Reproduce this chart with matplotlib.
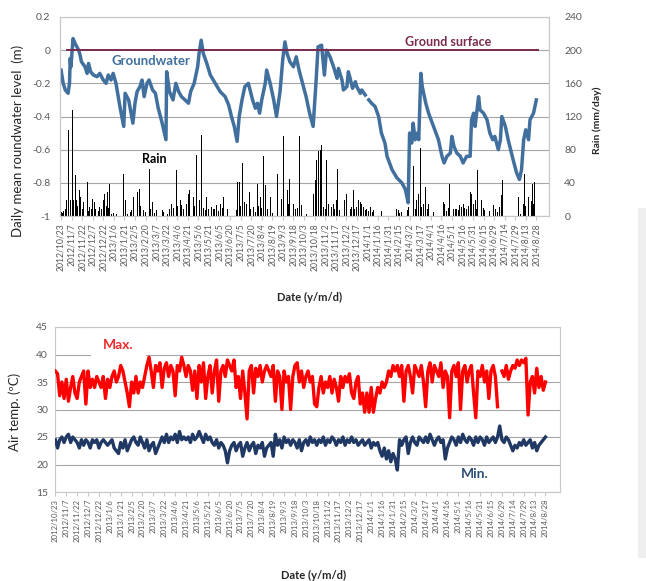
import numpy as np
import matplotlib
matplotlib.use('Agg')
import matplotlib.pyplot as plt
from matplotlib.patches import Rectangle
from matplotlib.ticker import FuncFormatter

plt.rcParams['font.family'] = ['Lato', 'DejaVu Sans']

# ---- data ----
date_labels = ['2012/10/23', '2012/11/7', '2012/11/22', '2012/12/7', '2012/12/22',
               '2013/1/6', '2013/1/21', '2013/2/5', '2013/2/20', '2013/3/7', '2013/3/22',
               '2013/4/6', '2013/4/21', '2013/5/6', '2013/5/21', '2013/6/5', '2013/6/20',
               '2013/7/5', '2013/7/20', '2013/8/4', '2013/8/19', '2013/9/3', '2013/9/18',
               '2013/10/3', '2013/10/18', '2013/11/2', '2013/11/17', '2013/12/2', '2013/12/17',
               '2014/1/1', '2014/1/16', '2014/1/31', '2014/2/15', '2014/3/2', '2014/3/17',
               '2014/4/1', '2014/4/16', '2014/5/1', '2014/5/16', '2014/5/31', '2014/6/15',
               '2014/6/29', '2014/7/14', '2014/7/29', '2014/8/13', '2014/8/28']
tick_step = 15  # days between labels

# groundwater level (m), day counted from 2012/10/23
gw_day = [0, 3, 6, 10, 12, 13, 14, 17, 20, 25, 27, 29, 34, 37, 39, 42, 46, 51, 55, 60,
          64, 67, 71, 74, 78, 84, 89, 91, 96, 102, 105, 108, 112, 115, 118, 122, 125, 130, 134, 138,
          143, 149, 150, 154, 159, 163, 167, 171, 176, 181, 184, 189, 194, 196, 199, 202, 207, 212, 219, 226,
          233, 238, 242, 246, 250, 253, 257, 261, 266, 269, 272, 276, 279, 282, 285, 290, 292, 297, 302, 306,
          311, 315, 318, 321, 325, 330, 334, 338, 343, 348, 353, 358, 362, 365, 370, 374, 377, 382, 387, 392,
          394, 399, 401, 406, 408, 410, 414, 418, 420, 425, 427, 432, 434, 437, 441, 446, 451, 455, 460, 463,
          470, 477, 484, 489, 493, 495, 498, 500, 503, 506, 508, 511, 513, 516, 518, 522, 529, 536, 541, 544,
          548, 553, 555, 558, 562, 567, 571, 576, 581, 583, 586, 588, 593, 595, 600, 605, 609, 613, 616, 621,
          624, 626, 631, 635, 642, 647, 651, 654, 657, 660, 664, 666, 671, 675]
gw_level = [-0.12, -0.20, -0.24, -0.26, -0.20, -0.05, -0.10, 0.07, 0.04, 0.00, -0.03, -0.07, -0.10, -0.14, -0.08, -0.13, -0.15, -0.16, -0.14, -0.18,
            -0.20, -0.15, -0.18, -0.14, -0.20, -0.35, -0.46, -0.26, -0.30, -0.44, -0.32, -0.25, -0.22, -0.18, -0.28, -0.20, -0.18, -0.24, -0.26, -0.35,
            -0.43, -0.54, -0.13, -0.25, -0.30, -0.20, -0.25, -0.28, -0.30, -0.32, -0.25, -0.20, -0.10, -0.02, 0.06, -0.02, -0.08, -0.15, -0.20, -0.25,
            -0.28, -0.33, -0.40, -0.46, -0.55, -0.40, -0.30, -0.22, -0.20, -0.25, -0.30, -0.35, -0.32, -0.38, -0.30, -0.20, -0.12, -0.20, -0.30, -0.40,
            -0.25, -0.05, 0.05, -0.02, -0.07, -0.10, -0.04, -0.12, -0.20, -0.28, -0.38, -0.46, -0.20, 0.02, 0.03, -0.15, 0.00, -0.04, -0.10, -0.17,
            -0.11, -0.18, -0.24, -0.22, -0.13, -0.16, -0.23, -0.19, -0.22, -0.26, -0.24, -0.27, np.nan, -0.30, -0.32, -0.34, -0.40, -0.50, -0.56, -0.64,
            -0.72, -0.77, -0.80, -0.84, -0.92, -0.50, -0.56, -0.44, -0.54, -0.50, -0.54, -0.14, -0.22, -0.28, -0.32, -0.38, -0.46, -0.54, -0.64, -0.68,
            -0.64, -0.62, -0.52, -0.58, -0.62, -0.64, -0.68, -0.64, -0.64, -0.42, -0.38, -0.46, -0.28, -0.36, -0.38, -0.42, -0.50, -0.54, -0.52, -0.60,
            -0.54, -0.40, -0.46, -0.54, -0.66, -0.74, -0.78, -0.72, -0.54, -0.48, -0.54, -0.42, -0.38, -0.30]

surface_level = 0.0
surface_days = [8, 677]

# daily rain (mm/day)
rain_day = [0, 2, 4, 6, 8, 10, 13, 16, 18, 20, 22, 24, 26, 28, 30, 32, 34, 37, 39, 41,
            43, 45, 47, 49, 51, 53, 55, 57, 60, 62, 64, 66, 68, 69, 72, 75, 79, 89, 91, 94,
            98, 100, 103, 105, 108, 111, 113, 115, 117, 120, 125, 127, 130, 133, 136, 144, 146, 149, 151, 154,
            157, 160, 164, 166, 169, 171, 174, 176, 178, 181, 183, 186, 188, 190, 193, 196, 199, 202, 205, 207,
            210, 214, 216, 218, 221, 224, 226, 229, 231, 236, 249, 251, 253, 255, 257, 258, 261, 264, 267, 269,
            273, 276, 279, 281, 283, 285, 287, 290, 293, 297, 300, 308, 311, 313, 316, 318, 321, 323, 325, 328,
            330, 333, 336, 338, 342, 345, 349, 358, 361, 363, 365, 368, 370, 373, 375, 377, 380, 382, 384, 387,
            389, 391, 393, 396, 399, 403, 406, 409, 411, 413, 415, 417, 420, 422, 425, 427, 429, 432, 434, 437,
            439, 442, 444, 455, 470, 477, 479, 481, 484, 492, 493, 497, 500, 503, 505, 508, 510, 512, 514, 515,
            518, 520, 522, 524, 529, 543, 545, 547, 550, 552, 557, 560, 562, 564, 566, 569, 571, 573, 576, 579,
            581, 583, 586, 588, 590, 592, 595, 597, 600, 602, 605, 608, 612, 614, 617, 620, 623, 625, 627, 650,
            653, 657, 658, 660, 664, 666, 668, 669, 671, 673]
rain_mm = [5, 4, 6, 9, 19, 104, 19, 128, 19, 50, 19, 12, 31, 23, 8, 17, 10, 41, 6, 11,
           9, 21, 17, 8, 15, 6, 11, 9, 19, 27, 12, 29, 10, 39, 3, 4, 2, 51, 19, 3,
           5, 7, 23, 31, 29, 33, 12, 31, 7, 5, 57, 8, 17, 4, 7, 7, 5, 90, 3, 8,
           15, 10, 55, 12, 19, 13, 8, 11, 14, 27, 31, 29, 23, 12, 74, 19, 98, 10, 7, 23,
           8, 11, 9, 9, 13, 6, 15, 10, 23, 9, 7, 41, 41, 12, 15, 64, 17, 15, 29, 9,
           11, 5, 39, 12, 23, 10, 72, 37, 8, 23, 4, 51, 41, 20, 96, 106, 31, 14, 45, 29,
           15, 8, 10, 96, 13, 5, 3, 27, 43, 68, 78, 80, 86, 11, 9, 68, 15, 7, 11, 15,
           8, 19, 57, 7, 10, 19, 27, 41, 9, 11, 31, 8, 11, 19, 17, 15, 11, 7, 9, 6,
           11, 5, 7, 6, 3, 9, 7, 4, 5, 7, 11, 6, 60, 9, 19, 27, 82, 11, 8, 15,
           35, 9, 15, 13, 5, 17, 15, 6, 10, 39, 8, 9, 9, 7, 13, 11, 15, 10, 9, 12,
           29, 27, 15, 19, 9, 55, 11, 19, 10, 7, 5, 6, 17, 13, 8, 5, 11, 25, 43, 23,
           3, 15, 51, 12, 23, 40, 18, 39, 15, 41]

# air temperature (deg C), one value every 3 days from 2012/10/23
temp_step = 3
t_max = [37, 36.5, 32.5, 35, 32, 35.5, 31.5, 34, 36, 33,
         32, 35, 36, 37, 31, 37, 34, 35.5, 34, 36,
         35, 34, 36, 32, 35.5, 34, 36, 37, 35, 36,
         38, 37, 35, 33, 30.5, 35, 33, 36, 33, 35,
         34, 36, 38, 39.5, 37, 34, 38, 37, 38.5, 34,
         37.5, 38.5, 36, 38, 37, 32.5, 38, 37, 39.5, 38,
         36, 38, 37, 33.5, 37, 32, 38, 35, 38.5, 32,
         36, 38, 33, 37, 39, 31.5, 37, 38, 36, 39,
         38, 37, 39, 34, 36, 32, 37, 33, 28.3, 37,
         38, 33, 37.5, 36, 38, 35, 37, 38, 37, 36,
         38, 31.5, 37, 36, 30, 37, 35, 36, 30, 36,
         38, 38.5, 35, 37, 34, 36, 37, 35, 36, 31,
         30.5, 34, 36, 33, 35, 34, 36, 33, 35.5, 34,
         31.5, 36, 34, 36, 35, 36.5, 33, 32, 35, 36,
         31, 33, 29.5, 33, 29.5, 34, 29.5, 32, 34, 33,
         35, 34, 35, 37, 36, 38, 37, 38, 36, 38,
         31.5, 37, 38, 36, 33, 38, 37, 36, 38, 35,
         30.5, 37, 38.5, 35, 38, 37, 36, 38.5, 34, 37,
         36, 28.5, 37, 38, 36, 38.5, 30, 37, 38, 35,
         37, 38, 33, 28.5, 37, 36, 38, 35, 37, 32,
         37, 38, 36, 30.5, np.nan, 37, 36, 38, 35.5, 37,
         38, 37.5, 39, 38, 39, 38.5, 39.3, 29, 35, 36,
         33, 37.5, 34, 36, 33.5, 35]
t_min = [24.5, 23, 24.5, 25, 24, 25, 25.5, 24, 25, 24.5,
         24, 23, 24.5, 23.5, 24.5, 24, 23, 24.5, 24, 24.5,
         23, 24, 24.5, 24, 23.5, 24, 24.5, 23, 22.5, 22,
         24, 23, 24.5, 22.5, 23.5, 24.5, 25, 24, 23.5, 25,
         24, 23, 24.5, 22.5, 23.5, 24, 22, 23, 24, 25,
         24, 25.5, 24, 25, 24.5, 25.5, 24, 26, 24.5, 25,
         24.5, 25, 24, 25.5, 24.5, 25, 26, 25, 24, 25.5,
         24.5, 25, 24, 23.5, 24.5, 23, 24, 23.5, 22.5, 20.3,
         22.5, 23.5, 24, 22.5, 23.5, 24, 21.5, 23, 24, 22.5,
         23.5, 24, 22, 23.5, 23, 24, 21.5, 23, 23.5, 24,
         21.5, 25.5, 23.5, 24.5, 23, 25, 24, 24.5, 23.5, 24.5,
         24, 23, 24.5, 22.5, 24, 24.5, 23.5, 25, 24, 24.5,
         23.5, 24.5, 24, 25, 23.5, 24.5, 24, 25, 24.5, 23.5,
         24.5, 24, 25, 23.5, 24.5, 24, 25, 24, 24.5, 23.5,
         24, 24.5, 23.5, 24, 24.5, 23, 24, 23.5, 24, 22.5,
         21.5, 23, 21, 22.5, 20.5, 22, 21, 19, 24.5, 23.5,
         24.5, 25, 22, 24, 25, 24, 23.5, 25, 24.5, 24,
         25, 24, 25.5, 24.5, 23.5, 24.5, 25, 24, 24.5, 21,
         23, 24, 25, 24.5, 23.5, 25, 24, 25.5, 24.5, 24,
         25, 24.5, 23.5, 25, 24, 25, 24.5, 23.5, 25, 24,
         24.5, 25, 24, 25, 27, 24.5, 24, 25, 24.5, 23.5,
         22.5, 23.5, 23, 24, 23.5, 24.5, 23.5, 24, 24.5, 23,
         24, 22.5, 23.5, 24, 24.5, 25]

# ---- figure ----
W, H = 646, 581
fig = plt.figure(figsize=(W / 100, H / 100), dpi=100)
grid_c = '#A6A6A6'
frame_c = '#C8C8C8'
tick_c = '#595959'
tick_pos = np.arange(len(date_labels)) * tick_step

def px_axes(left, top, right, bottom):
    return fig.add_axes([left / W, 1 - bottom / H, (right - left) / W, (bottom - top) / H])

# grey side panel at the right edge of the screenshot
side = fig.add_axes([638 / W, 1 - 558 / H, 8 / W, 350 / H])
side.set_facecolor('#EFEFEF')
side.set_axis_off()
side.add_patch(Rectangle((0, 0), 1, 1, transform=side.transAxes,
                         facecolor='#EFEFEF', edgecolor='none'))

# top panel: groundwater + rain
ax_r = px_axes(60, 17, 549, 216)
ax = ax_r.twinx()
ax_r.yaxis.tick_right()
ax.yaxis.tick_left()

ax_r.bar(rain_day, rain_mm, width=1.3, color='black', linewidth=0)
ax_r.set_ylim(0, 240)
ax_r.set_yticks(range(0, 241, 40))
ax_r.yaxis.grid(True, color=grid_c, linewidth=0.8)
ax_r.set_axisbelow(True)

ax.plot(gw_day, gw_level, color='#41709E', linewidth=2.5, solid_joinstyle='round')
ax.plot(surface_days, [surface_level, surface_level], color='#7B2B50', linewidth=1.4)
ax.set_ylim(-1, 0.2)
ax.set_yticks([0.2, 0, -0.2, -0.4, -0.6, -0.8, -1])
ax.yaxis.set_major_formatter(FuncFormatter(lambda v, p: '%g' % round(v, 2)))
ax.set_xlim(-1.5, 693)
ax_r.set_xlim(-1.5, 693)
ax_r.set_xticks(tick_pos)
ax_r.set_xticklabels(date_labels, rotation=90, fontsize=6.2, color=tick_c)
ax_r.tick_params(axis='x', length=3, color=frame_c, pad=2)
ax_r.tick_params(axis='y', length=0, labelsize=7.5, labelcolor=tick_c, pad=11)
ax.tick_params(axis='y', length=0, labelsize=7.5, labelcolor=tick_c, pad=7)
ax.tick_params(axis='x', bottom=False, labelbottom=False)
ax.set_zorder(ax_r.get_zorder() + 1)
ax.patch.set_visible(False)
for a in (ax, ax_r):
    for s in a.spines.values():
        s.set_color(frame_c)
        s.set_linewidth(0.8)

ax.text(72, -0.065, 'Groundwater', color='#41709E', fontsize=9.5, fontweight='bold',
        ha='left', va='center')
ax.text(489, 0.05, 'Ground surface', color='#7B2B50', fontsize=9, fontweight='bold',
        ha='left', va='center')
ax.text(115, -0.655, 'Rain', color='black', fontsize=9, fontweight='bold', ha='left', va='center')

fig.text(18 / W, 1 - 141 / H, 'Daily mean roundwater level  (m)', rotation=90,
         ha='center', va='center', fontsize=9.5, color='#262626')
fig.text(597 / W, 1 - 120 / H, 'Rain (mm/day)', rotation=90, ha='center', va='center',
         fontsize=7.5, fontweight='bold', color='#262626')
fig.text(310 / W, 1 - 297 / H, 'Date (y/m/d)', ha='center', va='center',
         fontsize=8, fontweight='bold', color='#262626')

# bottom panel: air temperature
bx = px_axes(55, 327, 560, 492)
t_day = np.arange(len(t_max)) * temp_step
bx.plot(t_day, t_max, color='#FF0000', linewidth=2.4, zorder=3)
bx.plot(t_day, t_min, color='#1F3864', linewidth=2.4, zorder=3)
bx.set_ylim(15, 45)
bx.set_yticks(range(15, 46, 5))
bx.yaxis.grid(True, color=grid_c, linewidth=0.8)
bx.set_axisbelow(True)
bx.set_xlim(-0.5, 695)
bx.set_xticks(tick_pos)
bx.set_xticklabels(date_labels, rotation=90, fontsize=5.6, color=tick_c)
bx.tick_params(axis='x', length=3, color=frame_c, pad=2)
bx.tick_params(axis='y', length=0, labelsize=7.5, labelcolor=tick_c, pad=5)
for s in bx.spines.values():
    s.set_color(frame_c)
    s.set_linewidth(0.8)

bx.text(66, 41.8, 'Max.', color='#EE2A2A', fontsize=10, fontweight='bold', ha='left',
        va='center', zorder=2,
        bbox=dict(boxstyle='square,pad=0.9', facecolor='white', edgecolor='none'))
bx.text(559, 18.3, 'Min.', color='#2F4F7A', fontsize=10, fontweight='bold', ha='left', va='center')

fig.text(15 / W, 1 - 412 / H, 'Air temp. (\u00baC)', rotation=90, ha='center', va='center',
         fontsize=9.5, color='#262626')
fig.text(314 / W, 1 - 575 / H, 'Date (y/m/d)', ha='center', va='center',
         fontsize=8, fontweight='bold', color='#262626')

fig.savefig('out.png', dpi=100)
